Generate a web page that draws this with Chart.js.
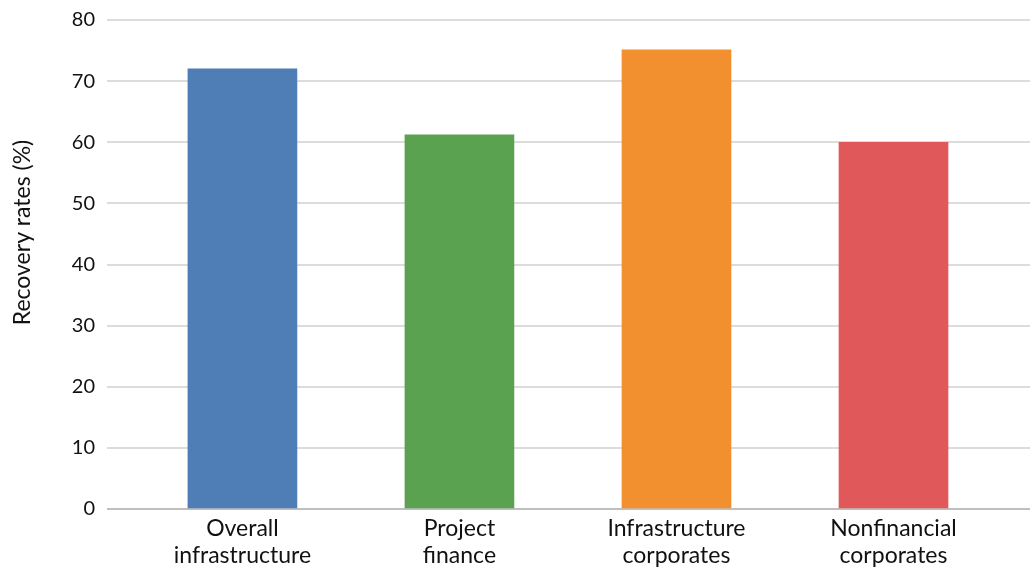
<!DOCTYPE html>
<html lang="en">
<head>
    <meta charset="UTF-8">
    <title>Recovery rates</title>
    <style>
        html, body { margin: 0; padding: 0; background: #fff; }
        #chartContainer { width: 1034px; height: 569px; }
    </style>
    <script src="https://cdn.jsdelivr.net/npm/chart.js"></script>
</head>
<body>
    <div id="chartContainer">
        <canvas id="recoveryChart"></canvas>
    </div>

    <script>
        // Data
        const categories = [
            ['Overall', 'infrastructure'],
            ['Project', 'finance'],
            ['Infrastructure', 'corporates'],
            ['Nonfinancial', 'corporates']
        ];
        const recoveryRates = [72.0, 61.2, 75.1, 60.0];
        const barColors = ['#4f7db5', '#5aa250', '#f28f2e', '#e0585a'];
        const yTicks = [0, 10, 20, 30, 40, 50, 60, 70, 80];
        const yTitle = 'Recovery rates (%)';

        const fontFamily = 'Lato, "Noto Sans", Arial, sans-serif';

        // y title sits a bit above the middle of the axis in the original
        const yTitlePlugin = {
            id: 'yTitle',
            afterDraw(chart) {
                const c = chart.ctx;
                const area = chart.chartArea;
                c.save();
                c.translate(23, (area.top + area.bottom) / 2 - 32);
                c.rotate(-Math.PI / 2);
                c.font = '23px ' + fontFamily;
                c.fillStyle = '#111';
                c.textAlign = 'center';
                c.textBaseline = 'middle';
                c.fillText(yTitle, 0, 0);
                c.restore();
            }
        };

        const ctx = document.getElementById('recoveryChart').getContext('2d');
        const recoveryChart = new Chart(ctx, {
            type: 'bar',
            data: {
                datasets: [{
                    label: yTitle,
                    data: recoveryRates.map((v, i) => ({ x: i, y: v })),
                    backgroundColor: barColors,
                    borderWidth: 0,
                    barThickness: 109
                }]
            },
            options: {
                responsive: true,
                maintainAspectRatio: false,
                animation: false,
                layout: { padding: { top: 20, right: 4, left: 0, bottom: 0 } },
                plugins: {
                    legend: { display: false },
                    tooltip: { enabled: false }
                },
                scales: {
                    x: {
                        type: 'linear',
                        offset: false,
                        min: -0.624,
                        max: 3.629,
                        grid: { display: false, drawTicks: false },
                        border: { display: false },
                        afterBuildTicks: axis => {
                            axis.ticks = categories.map((c, i) => ({ value: i }));
                        },
                        afterFit: axis => { axis.height = 60; },
                        ticks: {
                            autoSkip: false,
                            maxRotation: 0,
                            padding: 6,
                            color: '#111',
                            font: { family: fontFamily, size: 23, lineHeight: 1.18 },
                            callback: v => categories[v]
                        }
                    },
                    y: {
                        min: 0,
                        max: 80,
                        afterBuildTicks: axis => {
                            axis.ticks = yTicks.map(v => ({ value: v }));
                        },
                        afterFit: axis => {
                            axis.width = 107;
                            axis.paddingTop = 0;
                            axis.paddingBottom = 0;
                        },
                        grid: {
                            color: c => c.tick.value === 0 ? '#bfbfbf' : '#dcdcdc',
                            lineWidth: 2,
                            drawTicks: false
                        },
                        border: { display: false },
                        ticks: {
                            padding: 12,
                            color: '#111',
                            font: { family: fontFamily, size: 20 }
                        }
                    }
                }
            },
            plugins: [yTitlePlugin]
        });
    </script>
</body>
</html>
